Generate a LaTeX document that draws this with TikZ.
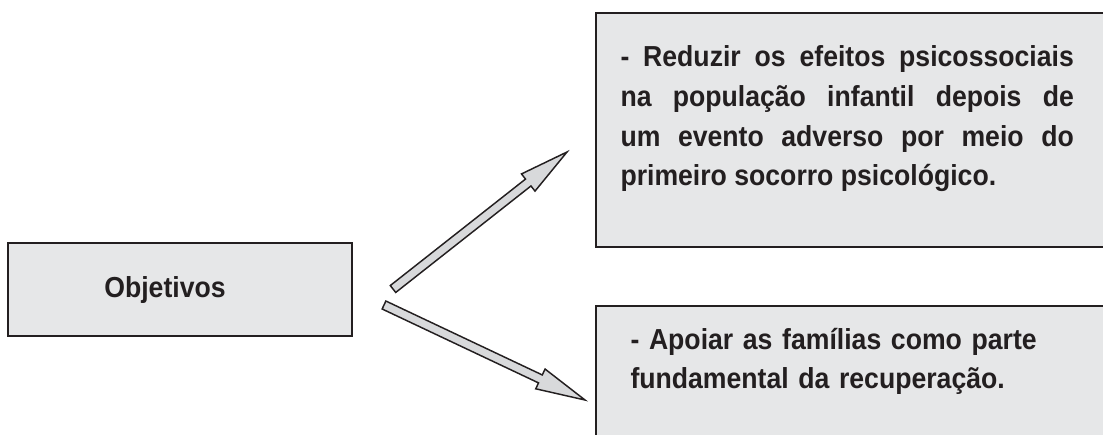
\documentclass[tikz,border=0pt]{standalone}
\usepackage{fontspec}
\setmainfont{Liberation Sans}[FakeStretch=0.92]
\usetikzlibrary{calc}

\definecolor{inkdark}{RGB}{35,31,32}
\definecolor{boxgray}{RGB}{230,231,232}
\definecolor{arrowgray}{RGB}{216,217,219}

\tikzset{every picture/.style={line width=0.75pt}}
\tikzset{
  objbox/.style={draw=inkdark,fill=boxgray,line width=1.9pt},
  blockarrow/.style={draw=inkdark,fill=arrowgray,line width=1.1pt,line join=miter},
  objtext/.style={text=inkdark,inner sep=0pt,font=\fontsize{21.7}{29.7}\selectfont\bfseries,
    execute at begin node={\hyphenpenalty=10000\relax}}
}

% block arrow from #1 (tail) to #2 (tip)
\newcommand{\blockarrow}[2]{%
  \path ($(#2)!37pt!(#1)$) coordinate (#2-base);
  \draw[blockarrow] ($(#1)!3.3pt!90:(#2)$) -- ($(#2-base)!3.3pt!90:(#2)$)
    -- ($(#2-base)!8.2pt!90:(#2)$) -- (#2) -- ($(#2-base)!8.2pt!-90:(#2)$)
    -- ($(#2-base)!3.3pt!-90:(#2)$) -- ($(#1)!3.3pt!-90:(#2)$) -- cycle;}

\begin{document}
\begin{tikzpicture}[x=0.75pt,y=0.75pt,yscale=-1,xscale=1]

\useasboundingbox (0,0) rectangle (1103,435);
\clip (0,0) rectangle (1103,435);

% boxes
\draw [objbox] (8,243) rectangle (352,336);
\draw [objbox] (596,13) rectangle (1115,247);
\draw [objbox] (596,306) rectangle (1115,450);

\draw (165,297) node (obj) [objtext,anchor=base] {Objetivos};

\draw (620,67) node (goalone) [objtext,anchor=base west,text width=340pt,align=justify]
  {- Reduzir os efeitos psicossociais\linebreak
   na população infantil depois de\linebreak
   um evento adverso por meio do\linebreak
   primeiro socorro psicológico.};

\draw (630,349) node (goaltwo) [objtext,anchor=base west,text width=400pt,align=left]
  {- Apoiar as famílias como parte\\
   fundamental da recuperação.};

% arrows
\coordinate (uptail) at (393,289);
\coordinate (uptip) at (567,152);
\coordinate (downtail) at (384,305);
\coordinate (downtip) at (585,400);

\blockarrow{uptail}{uptip}
\blockarrow{downtail}{downtip}

\end{tikzpicture}
\end{document}
